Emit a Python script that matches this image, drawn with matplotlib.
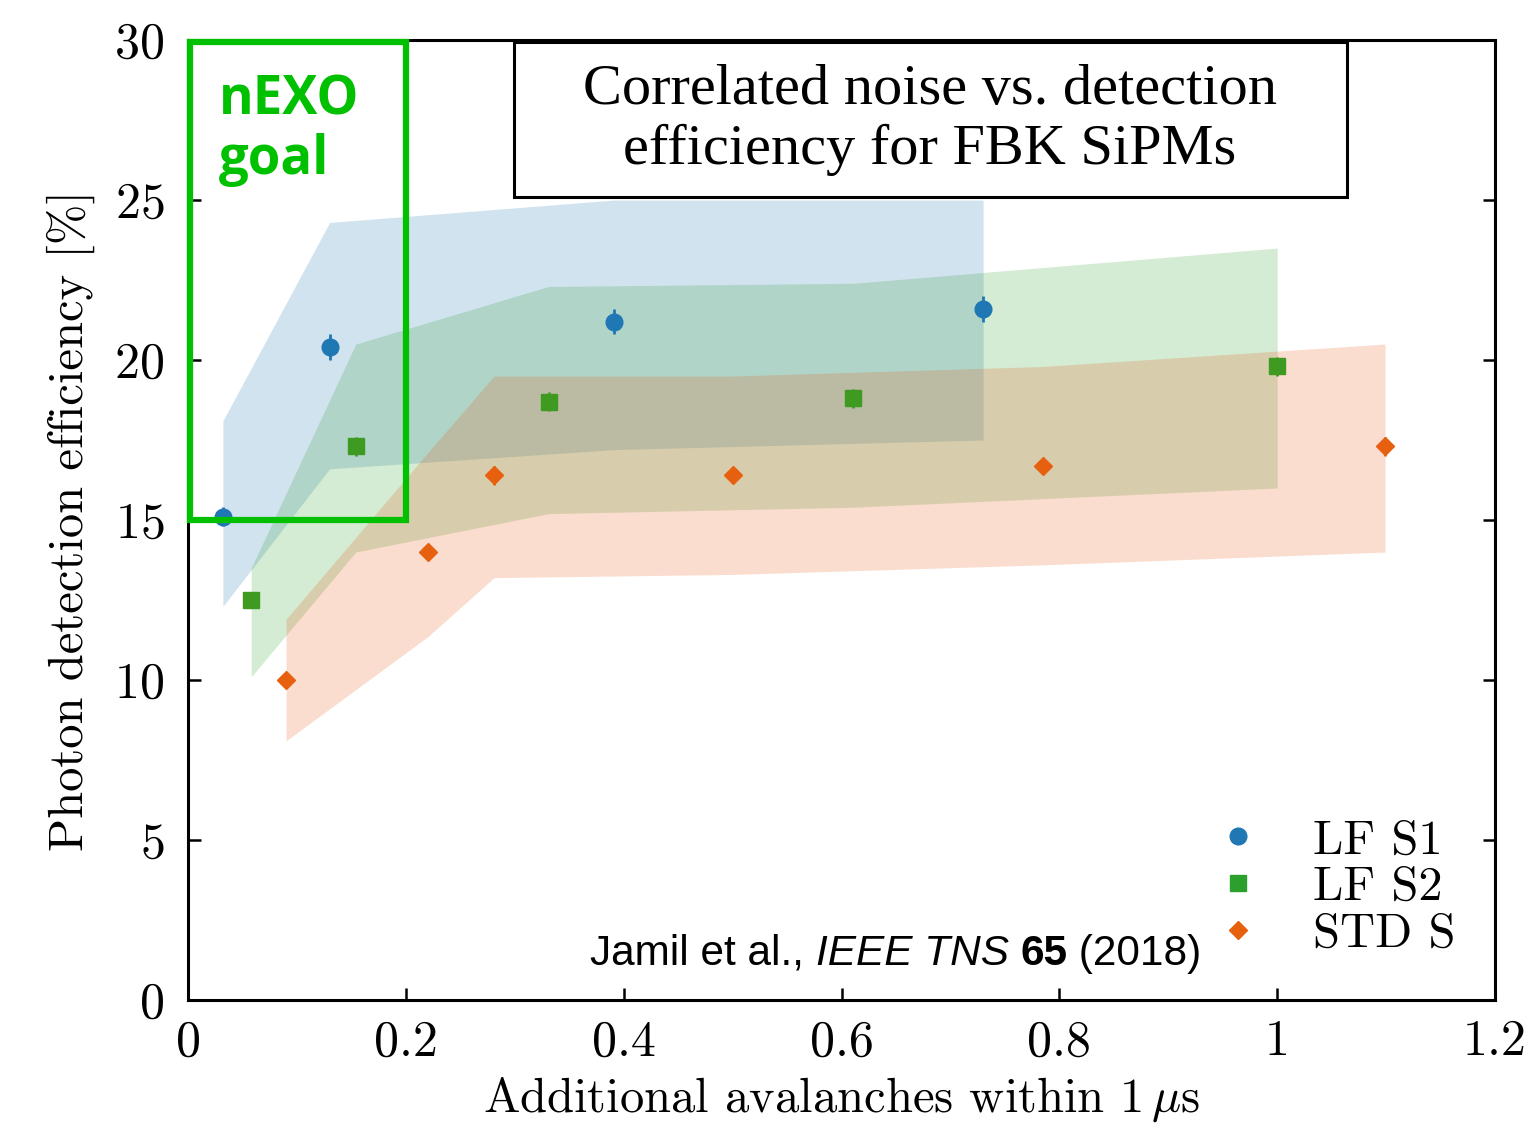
import matplotlib
matplotlib.use("Agg")
import matplotlib.pyplot as plt
from matplotlib.patches import Rectangle
from matplotlib.lines import Line2D

# ---- data: PDE vs correlated avalanches, three FBK SiPM types ----
s1_x = [0.032, 0.130, 0.391, 0.730]
s1_y = [15.1, 20.4, 21.2, 21.6]
s1_err = [0.3, 0.4, 0.4, 0.4]
s1_lo = [12.3, 16.6, 17.2, 17.5]
s1_hi = [18.1, 24.3, 25.0, 25.0]

s2_x = [0.058, 0.154, 0.331, 0.611, 1.000]
s2_y = [12.5, 17.3, 18.7, 18.8, 19.8]
s2_err = [0.2, 0.3, 0.3, 0.3, 0.3]
s2_lo = [10.1, 14.0, 15.2, 15.4, 16.0]
s2_hi = [13.5, 20.5, 22.3, 22.4, 23.5]

std_x = [0.090, 0.220, 0.281, 0.500, 0.785, 1.099]
std_y = [10.0, 14.0, 16.4, 16.4, 16.7, 17.3]
std_err = [0.2, 0.2, 0.3, 0.2, 0.2, 0.3]
std_lo = [8.1, 11.35, 13.2, 13.3, 13.6, 14.0]
std_hi = [11.9, 17.1, 19.5, 19.5, 19.8, 20.5]

labels = ["LF S1", "LF S2", "STD S"]
xticks = [0, 0.2, 0.4, 0.6, 0.8, 1.0, 1.2]
xticklabels = ["0", "0.2", "0.4", "0.6", "0.8", "1", "1.2"]
yticks = [0, 5, 10, 15, 20, 25, 30]

c_blue = "#1f77b4"
c_green = "#2ca02c"
c_orange = "#e6600f"

cm = ["cmr10", "DejaVu Serif"]
plt.rcParams["axes.formatter.use_mathtext"] = True
plt.rcParams["mathtext.fontset"] = "cm"

fig = plt.figure(figsize=(15.31, 11.25), dpi=100)
ax = fig.add_axes([0.1228, 0.1111, 0.8537, 0.8533])

# bands
ax.fill_between(s1_x, s1_lo, s1_hi, color=c_blue, alpha=0.2, lw=0)
ax.fill_between(s2_x, s2_lo, s2_hi, color=c_green, alpha=0.2, lw=0)
ax.fill_between(std_x, std_lo, std_hi, color="#e6550d", alpha=0.2, lw=0)

# points with small error bars
ax.errorbar(s1_x, s1_y, yerr=s1_err, fmt="o", color=c_blue, ms=12, elinewidth=2, capsize=0, zorder=5)
ax.errorbar(s2_x, s2_y, yerr=s2_err, fmt="s", color="#3f9a22", ms=11, elinewidth=2, capsize=0, zorder=5)
ax.errorbar(std_x, std_y, yerr=std_err, fmt="D", color=c_orange, ms=9, elinewidth=2, capsize=0, zorder=5)

ax.set_xlim(0, 1.2)
ax.set_ylim(0, 30)
ax.set_xticks(xticks)
ax.set_xticklabels(xticklabels)
ax.set_yticks(yticks)
ax.tick_params(direction="in", length=9, width=1.8, top=True, right=True, labelsize=36, pad=14)
ax.tick_params(axis="y", pad=17)
for lab in ax.get_xticklabels() + ax.get_yticklabels():
    lab.set_family(cm)
for sp in ax.spines.values():
    sp.set_linewidth(2.2)

ax.set_xlabel(r"Additional avalanches within 1$\,\mu$s", family=cm, fontsize=35, labelpad=7)
ax.set_ylabel("Photon detection efficiency [%]", family=cm, fontsize=35, labelpad=14)

# legend (markers only)
handles = [
    Line2D([], [], ls="none", marker="o", color=c_blue, ms=12),
    Line2D([], [], ls="none", marker="s", color=c_green, ms=11),
    Line2D([], [], ls="none", marker="D", color=c_orange, ms=9),
]
ax.legend(handles, labels, loc="lower right", bbox_to_anchor=(0.97, 0.045), frameon=False,
          prop={"family": cm, "size": 35}, labelspacing=0.05, handletextpad=1.05, handlelength=1.0,
          borderpad=0, borderaxespad=0)

# nEXO goal box
ax.add_patch(Rectangle((0.002, 15.0), 0.198, 14.95, fill=False, ec="#00c000", lw=4.5, zorder=6, clip_on=False))
ax.text(0.028, 28.95, "nEXO\ngoal", color="#00c000", fontsize=38, fontweight="bold",
        family="Open Sans", va="top", ha="left", linespacing=1.12, zorder=7)

# title box
ax.add_patch(Rectangle((0.2494, 0.8365), 0.6374, 0.1614, transform=ax.transAxes,
                       fc="white", ec="black", lw=2.2, zorder=8))
ax.text(0.5677, 0.9165, "Correlated noise vs. detection\nefficiency for FBK SiPMs",
        transform=ax.transAxes, family="Liberation Serif", fontsize=42, ha="center", va="center",
        linespacing=1.2, zorder=9)

# citation, pieced together in different styles
fig.canvas.draw()
r = fig.canvas.get_renderer()
parts = [("Jamil et al., ", "normal", "normal"), ("IEEE TNS ", "italic", "normal"),
         ("65", "normal", "bold"), (" (2018)", "normal", "normal")]
x0, y0 = ax.transData.transform((0.369, 1.1))
for s, style, weight in parts:
    t = fig.text(x0 / fig.dpi / 15.31, y0 / fig.dpi / 11.25, s, family="Liberation Sans",
                 fontsize=30.5, style=style, weight=weight, va="baseline", ha="left")
    x0 = t.get_window_extent(r).x1

fig.savefig("out.png", dpi=100)
